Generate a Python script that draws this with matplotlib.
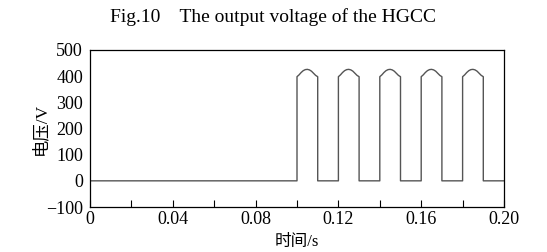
import matplotlib
matplotlib.use("Agg")
import matplotlib.pyplot as plt
import numpy as np

plt.rcParams['font.family'] = ['Liberation Serif', 'Noto Sans CJK SC']

# Data
pulse_starts = [0.10, 0.12, 0.14, 0.16, 0.18]   # s, rising edges
pulse_ends = [0.11, 0.13, 0.15, 0.17, 0.19]     # s, falling edges
# voltage along the top of one pulse, at 0%,10%,...,100% of the pulse width
pulse_top = [398, 405, 414, 421, 425, 426, 424, 419, 411, 403, 398]
t_start, t_end = 0.0, 0.20
xticks = [0, 0.04, 0.08, 0.12, 0.16, 0.20]
xtick_labels = ["0", "0.04", "0.08", "0.12", "0.16", "0.20"]
yticks = [-100, 0, 100, 200, 300, 400, 500]
ytick_labels = ["\u2212100", "0", "100", "200", "300", "400", "500"]

# assemble the waveform
t = [t_start]
v = [0]
frac = np.linspace(0, 1, len(pulse_top))
for s, e in zip(pulse_starts, pulse_ends):
    t += [s]
    v += [0]
    t += list(s + frac * (e - s))
    v += list(pulse_top)
    t += [e]
    v += [0]
t.append(t_end)
v.append(0)

fig = plt.figure(figsize=(5.47, 2.52), dpi=100)
ax = fig.add_axes([90/547, 45/252, (504-90)/547, (207-50)/252])
ax.plot(t, v, color='#555555', lw=1.0)

ax.set_xlim(0, 0.20)
ax.set_ylim(-100, 500)
ax.set_xticks(xticks)
ax.set_xticklabels(xtick_labels)
ax.set_xticks(np.arange(0.02, 0.20, 0.04), minor=True)
ax.set_yticks(yticks)
ax.set_yticklabels(ytick_labels)
ax.tick_params(axis='x', which='both', direction='in', length=5, width=0.8,
               labelsize=13, pad=3)
ax.tick_params(axis='y', which='both', length=0, labelsize=13, pad=5)
for sp in ax.spines.values():
    sp.set_linewidth(0.9)
    sp.set_color('black')

ax.set_xlabel("时间/s", fontsize=12)
ax.xaxis.set_label_coords(0.5, -0.22)
ax.xaxis.label.set_va('center')
ax.set_ylabel("电压/V", fontsize=12.5)
ax.yaxis.set_label_coords(-0.12, 0.5)
ax.yaxis.label.set_va('center')
fig.text(0.5, 1 - 17/252, "Fig.10    The output voltage of the HGCC",
         ha='center', va='center', fontsize=14)

fig.savefig("out.png", dpi=100)
